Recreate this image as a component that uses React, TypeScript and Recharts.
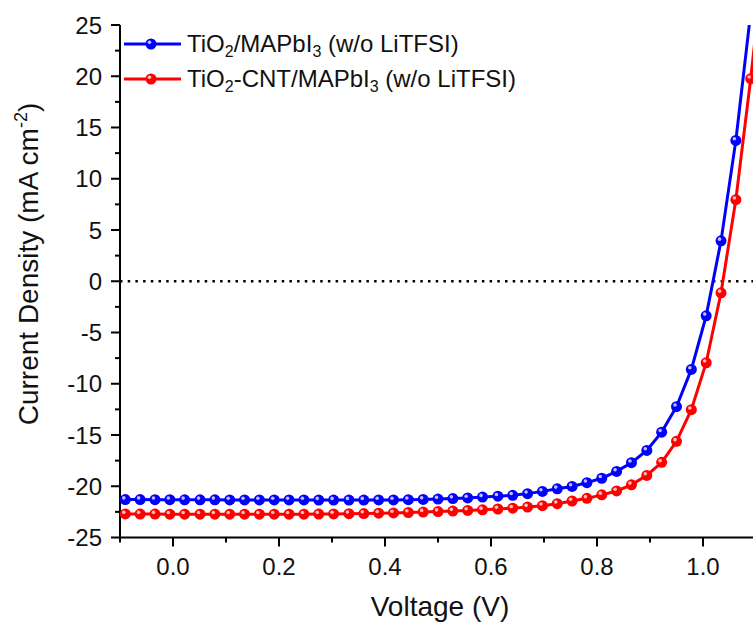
import React from "react";
import {
  LineChart,
  Line,
  XAxis,
  YAxis,
  ReferenceLine,
} from "recharts";

const voltage = [
  -0.09, -0.062, -0.034, -0.006, 0.022, 0.051, 0.079, 0.107, 0.135, 0.163, 0.191,
  0.219, 0.247, 0.275, 0.303, 0.332, 0.36, 0.388, 0.416, 0.444, 0.472, 0.5,
  0.528, 0.556, 0.584, 0.613, 0.641, 0.669, 0.697, 0.725, 0.753, 0.781, 0.809,
  0.837, 0.865, 0.894, 0.922, 0.95, 0.978, 1.006, 1.034, 1.062, 1.09, 1.118,
];

// TiO2/MAPbI3 (w/o LiTFSI)
const tio2J = [
  -21.3, -21.3, -21.31, -21.31, -21.32, -21.32, -21.32, -21.33, -21.33, -21.33,
  -21.34, -21.34, -21.34, -21.35, -21.35, -21.35, -21.35, -21.34, -21.33, -21.31,
  -21.29, -21.25, -21.2, -21.14, -21.06, -20.97, -20.88, -20.72, -20.5, -20.25,
  -20.02, -19.65, -19.22, -18.55, -17.7, -16.5, -14.72, -12.24, -8.6, -3.37,
  3.94, 13.74, 26.2, 40.0,
];

// TiO2-CNT/MAPbI3 (w/o LiTFSI)
const cntJ = [
  -22.7, -22.71, -22.71, -22.72, -22.72, -22.72, -22.73, -22.73, -22.73, -22.73,
  -22.73, -22.72, -22.72, -22.71, -22.7, -22.68, -22.66, -22.63, -22.6, -22.56,
  -22.52, -22.47, -22.42, -22.36, -22.3, -22.22, -22.14, -22.03, -21.9, -21.7,
  -21.44, -21.18, -20.84, -20.46, -19.86, -18.94, -17.67, -15.62, -12.53, -7.95,
  -1.13, 7.96, 19.76, 33.0,
];

const xTicks = [-0.1, 0, 0.1, 0.2, 0.3, 0.4, 0.5, 0.6, 0.7, 0.8, 0.9, 1.0, 1.1];
const yTicks = [
  -25, -22.5, -20, -17.5, -15, -12.5, -10, -7.5, -5, -2.5, 0, 2.5, 5, 7.5, 10,
  12.5, 15, 17.5, 20, 22.5, 25,
];

const BLUE = "#0000ff";
const RED = "#ff0000";
const FONT = "'Liberation Sans', Arial, sans-serif";

const data = voltage.map((v, i) => ({ v, a: tio2J[i], b: cntJ[i] }));

function Ball({ cx, cy, color }: { cx: number; cy: number; color: string }) {
  if (cx == null || cy == null) return null;
  return (
    <g>
      <circle cx={cx} cy={cy} r={5.5} fill={color} />
      <circle cx={cx - 1.5} cy={cy - 1.7} r={1.8} fill="#fff" opacity={0.75} />
    </g>
  );
}

const YTick = (props: any) => {
  const { x, y, payload } = props;
  const v = payload.value;
  const major = Math.abs(v % 5) < 1e-6;
  return (
    <g>
      <line x1={x} x2={x - (major ? 9 : 5)} y1={y} y2={y} stroke="#000" strokeWidth={2} />
      {major && (
        <text x={x - 18} y={y} dy="0.36em" textAnchor="end" fontSize={24} fontFamily={FONT} fill="#111">
          {v}
        </text>
      )}
    </g>
  );
};

const XTick = (props: any) => {
  const { x, y, payload } = props;
  const v = payload.value;
  const major = Math.round(v * 10) % 2 === 0;
  return (
    <g>
      <line x1={x} x2={x} y1={y} y2={y + (major ? 9 : 5)} stroke="#000" strokeWidth={2} />
      {major && (
        <text x={x} y={y + 29} dy="0.36em" textAnchor="middle" fontSize={24} fontFamily={FONT} fill="#111">
          {v.toFixed(1)}
        </text>
      )}
    </g>
  );
};

const xTitle = () => (
  <text x={440} y={616} textAnchor="middle" fontSize={28} fontFamily={FONT} fill="#111">
    Voltage (V)
  </text>
);

const yTitle = () => (
  <text
    x={38}
    y={264}
    transform="rotate(-90 38 264)"
    textAnchor="middle"
    fontSize={28}
    fontFamily={FONT}
    fill="#111"
  >
    Current Density (mA cm
    <tspan dy={-11} fontSize={18}>-2</tspan>
    <tspan dy={11}>)</tspan>
  </text>
);

const LegendIcon = ({ color }: { color: string }) => (
  <svg width={57} height={14} style={{ display: "block" }}>
    <line x1={0} x2={57} y1={7} y2={7} stroke={color} strokeWidth={3} />
    <circle cx={27} cy={7} r={5.5} fill={color} />
    <circle cx={25.5} cy={5.3} r={1.8} fill="#fff" opacity={0.75} />
  </svg>
);

const legendRows = [
  { color: BLUE, pre: "TiO", mid: "/MAPbI", post: " (w/o LiTFSI)" },
  { color: RED, pre: "TiO", mid: "-CNT/MAPbI", post: " (w/o LiTFSI)" },
];

export default function App() {
  return (
    <div
      style={{
        position: "fixed",
        left: 0,
        top: 0,
        width: 753,
        height: 625,
        overflow: "hidden",
        background: "#fff",
      }}
    >
      <LineChart
        width={760}
        height={625}
        data={data}
        margin={{ top: 25, right: 4, left: 0, bottom: 0 }}
      >
        <XAxis
          dataKey="v"
          type="number"
          domain={[-0.1, 1.1]}
          ticks={xTicks}
          allowDataOverflow
          height={87.5}
          tickLine={false}
          tickSize={0}
          tickMargin={0}
          interval={0}
          axisLine={{ stroke: "#000", strokeWidth: 2 }}
          tick={<XTick />}
          label={{ content: xTitle }}
        />
        <XAxis
          xAxisId="top"
          dataKey="v"
          type="number"
          domain={[-0.1, 1.1]}
          orientation="top"
          height={0}
          tick={false}
          tickLine={false}
          axisLine={{ stroke: "#000", strokeWidth: 2 }}
        />
        <YAxis
          type="number"
          domain={[-25, 25]}
          ticks={yTicks}
          allowDataOverflow
          width={120}
          interval={0}
          tickLine={false}
          tickSize={0}
          tickMargin={0}
          axisLine={{ stroke: "#000", strokeWidth: 2 }}
          tick={<YTick />}
          label={{ content: yTitle }}
        />
        <ReferenceLine
          y={0}
          stroke="#000"
          strokeWidth={2.5}
          strokeDasharray="2.5 5.2"
        />
        <Line
          dataKey="a"
          name="TiO2/MAPbI3 (w/o LiTFSI)"
          type="linear"
          stroke={BLUE}
          strokeWidth={3}
          isAnimationActive={false}
          dot={(p: any) => <Ball key={`a${p.index}`} cx={p.cx} cy={p.cy} color={BLUE} />}
          activeDot={false}
        />
        <Line
          dataKey="b"
          name="TiO2-CNT/MAPbI3 (w/o LiTFSI)"
          type="linear"
          stroke={RED}
          strokeWidth={3}
          isAnimationActive={false}
          dot={(p: any) => <Ball key={`b${p.index}`} cx={p.cx} cy={p.cy} color={RED} />}
          activeDot={false}
        />
      </LineChart>
      <div
        style={{
          position: "absolute",
          left: 124,
          top: 27,
          fontFamily: FONT,
          fontSize: 24,
          color: "#111",
        }}
      >
        {legendRows.map((r) => (
          <div key={r.color} style={{ display: "flex", alignItems: "center", height: 34.5 }}>
            <LegendIcon color={r.color} />
            <span style={{ marginLeft: 6, whiteSpace: "nowrap", lineHeight: "24px" }}>
              {r.pre}
              <sub style={{ fontSize: 16, verticalAlign: "-5px", lineHeight: 0 }}>2</sub>
              {r.mid}
              <sub style={{ fontSize: 16, verticalAlign: "-5px", lineHeight: 0 }}>3</sub>
              {r.post}
            </span>
          </div>
        ))}
      </div>
    </div>
  );
}
